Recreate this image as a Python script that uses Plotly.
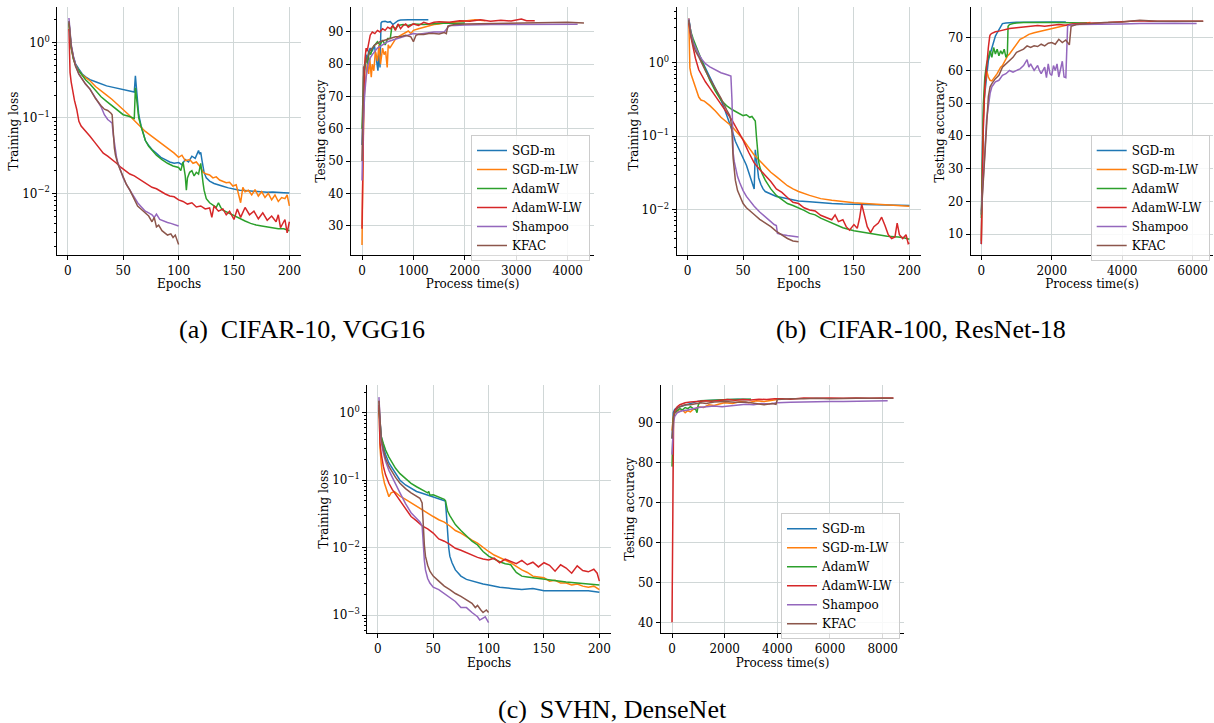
import plotly.graph_objects as go

W, H = 1214, 723
NAMES = ["SGD-m", "SGD-m-LW", "AdamW", "AdamW-LW", "Shampoo", "KFAC"]
COLORS = ["#1f77b4", "#ff7f0e", "#2ca02c", "#d62728", "#9467bd", "#8c564b"]

# ---------------- (a) CIFAR-10, VGG16 : training loss vs epochs ----------------
A_SGD_E = [1,2,3,5,7,10,13,16,20,25,30,35,40,45,50,55,58,60,61,62,63,64,66,68,70,73,76,80,84,88,92,96,100,103,106,109,112,115,117,118,119,120,121,122,123,125,128,132,136,140,145,150,155,160,165,170,175,180,185,190,195,200]
A_SGD_L = [1.9,1.2,0.9,0.65,0.52,0.44,0.38,0.35,0.32,0.30,0.28,0.265,0.255,0.245,0.237,0.23,0.225,0.22,0.36,0.24,0.15,0.11,0.08,0.062,0.05,0.043,0.038,0.034,0.03,0.028,0.026,0.025,0.0255,0.024,0.028,0.026,0.031,0.029,0.034,0.037,0.033,0.035,0.028,0.022,0.019,0.016,0.0145,0.0135,0.0128,0.0124,0.0118,0.0113,0.011,0.0109,0.0107,0.0105,0.0105,0.0103,0.0104,0.0102,0.0102,0.0101]
A_LW_E = [1,2,3,5,7,10,13,16,20,25,30,35,40,45,50,55,60,65,70,75,80,85,90,93,96,100,103,106,110,113,116,120,122,125,128,131,134,137,140,143,146,149,152,154,156,158,160,163,166,169,172,175,178,181,184,187,190,193,196,198,200]
A_LW_L = [1.8,1.1,0.85,0.62,0.5,0.42,0.37,0.34,0.31,0.26,0.23,0.2,0.175,0.15,0.13,0.11,0.092,0.078,0.066,0.058,0.051,0.045,0.04,0.036,0.034,0.03,0.032,0.027,0.028,0.025,0.026,0.022,0.019,0.018,0.0175,0.016,0.0165,0.015,0.0145,0.0138,0.014,0.0125,0.013,0.0098,0.0075,0.012,0.0105,0.011,0.0095,0.0112,0.0092,0.0105,0.0088,0.01,0.0082,0.0095,0.0078,0.0088,0.0085,0.0095,0.0068]
A_ADW_E = [1,2,3,5,7,10,13,16,20,25,30,35,40,45,50,55,58,60,61,62,63,64,66,68,70,73,76,80,85,90,95,100,102,104,106,107,108,110,112,114,116,118,120,121,122,123,125,128,131,134,136,138,140,145,150,155,160,165,170,175,180,185,190,195,200]
A_ADW_L = [1.8,1.1,0.85,0.6,0.5,0.42,0.36,0.32,0.28,0.23,0.19,0.165,0.145,0.125,0.11,0.105,0.1,0.098,0.25,0.18,0.13,0.1,0.078,0.062,0.05,0.042,0.037,0.032,0.028,0.025,0.023,0.022,0.02,0.026,0.017,0.011,0.016,0.019,0.02,0.017,0.019,0.018,0.025,0.02,0.014,0.011,0.0085,0.0075,0.007,0.0065,0.0075,0.0065,0.006,0.0055,0.005,0.0047,0.0043,0.004,0.0038,0.0037,0.0036,0.0035,0.0034,0.0034,0.0032]
A_ADLW_E = [1,2,3,4,5,6,8,10,12,15,18,20,24,28,32,36,40,44,48,52,56,60,64,68,72,76,80,84,88,92,96,100,104,108,112,116,120,124,128,130,132,136,140,143,146,150,153,156,160,164,168,172,176,180,184,188,190,192,196,198,200]
A_ADLW_L = [1.5,0.4,0.3,0.24,0.2,0.17,0.13,0.09,0.078,0.07,0.062,0.057,0.048,0.04,0.034,0.031,0.028,0.025,0.022,0.02,0.018,0.017,0.0155,0.0145,0.013,0.012,0.0115,0.0105,0.0098,0.0092,0.009,0.0082,0.0078,0.0072,0.0075,0.0066,0.0068,0.0062,0.0064,0.0048,0.0068,0.0058,0.0062,0.0052,0.0058,0.0045,0.0062,0.0048,0.0065,0.0052,0.0058,0.0046,0.0055,0.0044,0.005,0.0042,0.0052,0.0035,0.0045,0.003,0.0042]
A_SH_E = [1,2,3,5,7,10,13,16,20,25,30,33,36,38,40,41,42,43,44,45,47,50,53,56,60,63,66,70,73,76,78,80,83,86,90,93,96,100]
A_SH_L = [2.1,1.3,0.95,0.65,0.5,0.38,0.32,0.28,0.24,0.18,0.14,0.11,0.095,0.09,0.085,0.06,0.045,0.035,0.03,0.026,0.021,0.016,0.013,0.011,0.0088,0.0075,0.0067,0.0058,0.0055,0.0052,0.0048,0.0053,0.0045,0.0043,0.0041,0.004,0.0039,0.0037]
A_KF_E = [1,2,3,5,7,10,13,16,20,25,30,33,36,38,39,40,41,42,43,44,45,47,50,53,56,60,63,66,70,73,76,78,80,82,85,88,90,93,95,97,100]
A_KF_L = [1.9,1.2,0.9,0.62,0.48,0.38,0.32,0.28,0.24,0.18,0.145,0.13,0.125,0.12,0.115,0.11,0.06,0.04,0.032,0.028,0.025,0.021,0.016,0.013,0.011,0.0085,0.0068,0.0062,0.0055,0.005,0.0042,0.0048,0.0036,0.0038,0.0032,0.003,0.0028,0.0029,0.0026,0.0028,0.0021]

# ---------------- (a) testing accuracy vs process time ----------------
A_SGD_T = [0,20,40,60,80,100,130,160,200,240,280,310,330,350,360,370,390,450,500,550,600,650,700,750,800,900,1000,1100,1200,1290]
A_SGD_A = [55,68,75,79,83,81,84,85,84,86,82,78,84,79,86,92.8,93.2,93.3,93.0,93.2,92.3,93.0,93.5,93.7,93.8,93.8,93.8,93.8,93.8,93.8]
A_LW_T = [0,10,30,50,80,100,130,150,180,200,230,260,300,330,360,400,430,460,490,510,540,580,620,660,700,750,800,850,900,950,1000,1100,1200,1300,1400,1500,1600,1800,2000,2200,2400]
A_LW_A = [24,45,65,72,78,80,77,82,76,80,78,84,81,86,80,85,83,84,79,86,85,86,87,88,88.5,89,89.5,90,90.3,89.5,90.5,91,91.5,92,92.3,92.5,92.8,93,93.3,93.8,93.5]
A_ADW_T = [0,15,30,50,80,110,140,170,200,250,300,350,400,450,500,550,580,600,650,700,800,900,1000,1200,1400,1600,1800,2000]
A_ADW_A = [60,70,76,79,82,80,84,83,85,86,87,86,87.5,86,88,88,91.5,91.8,91,92,92.3,92,92.5,92.3,92.5,92.8,92.6,92.8]
A_ADLW_T = [0,10,20,30,45,60,80,100,130,160,200,250,300,350,400,450,500,550,600,650,700,750,800,850,900,1000,1100,1200,1300,1400,1500,1700,1900,2100,2300,2500,2700,2900,3100,3200,3360]
A_ADLW_A = [29,43,60,72,78,82,85,84,87,89,90,89.5,90.5,90,91,90.5,91.5,91,92,90.5,92.5,91,92,92.5,91.5,92.5,92,93,92.5,93,93.2,93,93.5,93.3,93.8,93.3,93.6,93.4,94,93.5,93.5]
A_SH_T = [0,20,50,80,120,160,200,250,300,400,500,600,700,800,900,1000,1100,1200,1400,1600,1650,1700,1800,2000,2500,3000,3500,4000,4194]
A_SH_A = [44,60,70,76,80,82,83,84,85,86,87,87.5,88,88.5,89,89.5,89.3,89.6,90,90,91,92,92,92.2,92.3,92.3,92.3,92.4,92.4]
A_KF_T = [0,15,30,60,100,150,200,250,350,450,550,650,750,850,950,1000,1050,1100,1200,1300,1400,1500,1600,1640,1670,1800,2000,2500,3000,3500,4000,4317]
A_KF_A = [50,70,79,80,82,84,85,86,87,87.5,88,88.5,88.5,89,88.5,87,89,89.3,89.2,89.5,89.5,89.4,89.8,89.5,91.8,92.3,92.5,92.6,92.8,92.9,93,92.8]

# ---------------- (b) CIFAR-100, ResNet-18 : training loss ----------------
B_SGD_E = [1,2,3,5,7,10,13,16,20,25,30,33,36,38,40,43,46,50,53,56,58,60,61,62,63,64,66,68,70,75,80,85,90,95,100,110,120,130,140,150,160,170,180,190,195,200]
B_SGD_L = [4.0,3.0,2.5,1.9,1.6,1.3,1.05,0.85,0.63,0.44,0.31,0.24,0.18,0.15,0.12,0.085,0.068,0.05,0.04,0.029,0.024,0.019,0.065,0.045,0.035,0.027,0.022,0.019,0.0175,0.016,0.015,0.0145,0.014,0.0135,0.013,0.0127,0.0122,0.012,0.0118,0.0117,0.0118,0.0115,0.0116,0.0114,0.0115,0.0113]
B_LW_E = [1,2,3,5,7,10,12,15,20,25,30,35,40,45,50,55,60,65,70,75,80,85,90,95,100,110,120,130,140,150,160,170,180,190,200]
B_LW_L = [4.0,0.85,0.7,0.58,0.47,0.34,0.31,0.3,0.26,0.22,0.18,0.155,0.135,0.11,0.09,0.07,0.055,0.046,0.038,0.032,0.028,0.024,0.021,0.019,0.0175,0.0155,0.014,0.0133,0.0127,0.0123,0.012,0.0118,0.0116,0.0113,0.011]
B_ADW_E = [1,2,3,5,7,10,13,16,20,25,30,35,40,45,50,53,56,58,60,61,62,63,64,65,67,70,75,80,85,90,95,100,105,110,115,120,125,130,140,150,160,170,180,190,195,200]
B_ADW_L = [3.8,3.0,2.6,2.1,1.75,1.35,1.05,0.8,0.58,0.41,0.31,0.26,0.23,0.21,0.19,0.195,0.18,0.185,0.17,0.16,0.1,0.06,0.045,0.038,0.031,0.025,0.019,0.0155,0.0135,0.012,0.0113,0.0105,0.0097,0.0088,0.0084,0.0076,0.007,0.0065,0.0056,0.0051,0.0048,0.0045,0.0043,0.0042,0.0041,0.0039]
B_ADLW_E = [1,2,3,5,7,10,13,16,20,25,30,35,40,45,50,55,60,65,70,75,80,85,90,95,100,105,110,115,120,125,130,133,136,140,143,146,150,153,155,157,159,162,165,168,172,175,178,181,184,187,189,191,194,197,199,200]
B_ADLW_L = [3.5,2.7,2.2,1.6,1.15,0.8,0.65,0.55,0.45,0.35,0.28,0.21,0.165,0.12,0.088,0.06,0.043,0.035,0.029,0.024,0.019,0.017,0.0145,0.0125,0.012,0.0105,0.0098,0.0095,0.0083,0.0078,0.0072,0.0084,0.0068,0.0072,0.0058,0.0052,0.0062,0.0055,0.0075,0.0118,0.0085,0.0058,0.0048,0.0058,0.0065,0.0078,0.006,0.0045,0.004,0.0042,0.0065,0.0045,0.004,0.0045,0.0034,0.0035]
B_SH_E = [1,2,3,5,7,10,13,16,20,25,30,35,38,39,40,41,42,43,45,47,50,53,56,60,65,70,75,78,80,81,83,86,90,95,100]
B_SH_L = [4.0,3.0,2.5,1.9,1.6,1.3,1.1,0.97,0.88,0.8,0.73,0.69,0.67,0.66,0.3,0.06,0.045,0.037,0.028,0.023,0.018,0.015,0.013,0.011,0.0092,0.0078,0.0068,0.0062,0.006,0.0047,0.0046,0.0045,0.0044,0.0043,0.0042]
B_KF_E = [1,2,3,5,7,10,13,16,20,25,30,35,38,39,40,41,42,43,45,47,50,53,56,60,65,70,75,80,83,86,90,95,100]
B_KF_L = [3.8,2.8,2.3,1.75,1.45,1.2,0.95,0.78,0.6,0.45,0.33,0.23,0.19,0.16,0.11,0.05,0.032,0.025,0.018,0.015,0.012,0.0105,0.0095,0.0085,0.0073,0.0065,0.0058,0.005,0.0047,0.0043,0.004,0.0037,0.0036]

# ---------------- (b) testing accuracy ----------------
B_SGD_T = [0,20,40,70,100,130,160,200,250,300,350,400,450,500,550,600,700,800,1000,1200,1500,1800,2100,2400]
B_SGD_A = [7,25,40,50,53,57,60,63,65,67,68.5,70.5,71.5,72.5,73.5,74.3,74.5,74.6,74.7,74.7,74.8,74.7,74.8,74.8]
B_LW_T = [0,30,60,100,150,200,250,300,350,400,450,500,550,600,650,700,750,800,900,1000,1100,1200,1350,1500,1700,1900,2100,2300,2500,2700,2900,3100]
B_LW_A = [8,30,45,55,60,58,57,56.8,57.5,58,59,60,61,61.5,62.5,63.5,64.5,65,66.5,68,69.5,70,71,71.5,72,72.5,73,73.4,74,74.2,74.4,74.6]
B_ADW_T = [0,30,60,100,150,200,250,300,350,400,450,500,550,600,650,700,740,760,800,900,1000,1200,1500,1800,2100,2400,2700,3000]
B_ADW_A = [15,35,50,58,62,64,66,64,67,65,66.5,64.5,66,65,66.5,64,65,73.5,74,74.3,74.5,74.6,74.7,74.6,74.6,74.5,74.5,74.5]
B_ADLW_T = [0,20,50,100,150,200,240,260,300,400,500,600,800,1000,1200,1400,1600,1800,2000,2200,2400,2600,2800,3000,3300,3600,3900,4200,4500,4800,5100,5400,5700,6000,6300]
B_ADLW_A = [7,20,40,55,62,67,70.5,71,71.3,71.8,72,72.3,72.8,73,73.3,73.5,73.7,73.5,73.8,74,73.8,74.2,74.3,74.3,74.5,74.6,74.8,75,75.2,75,75.1,75,75,75,75]
B_SH_T = [0,50,100,150,200,250,300,400,500,600,700,800,900,1000,1100,1200,1300,1350,1400,1500,1600,1650,1700,1800,1850,1900,1950,2000,2050,2100,2150,2200,2250,2300,2350,2400,2450,2500,2700,3000,3500,4000,4500,5000,5500,6114]
B_SH_A = [17,25,35,45,50,53,55,56.5,57,58.5,59,60,59.5,60,60.5,61.5,63.3,61,62,60,61.5,60,59,61,57.8,62,59,58.5,61.5,60,62,58,61,62.8,58,57.8,73.5,73.8,74,74,74.2,74.2,74.3,74.4,74.4,74.3]
B_KF_T = [0,50,100,150,200,250,300,400,500,600,700,800,900,1000,1100,1200,1300,1400,1500,1600,1700,1800,1900,2000,2100,2200,2300,2400,2500,2550,2700,3000,3500,4000,4500,5000,5500,6000,6300]
B_KF_A = [16,25,35,45,52,55,56,57.5,58.5,61,62,63,64,65.5,66,66.5,67.5,67,67.5,67.3,68,67.5,68.3,68.5,68,69.5,68.5,69.3,67.8,73.5,74,74.3,74.6,74.8,75.3,75,75,75,75]

# ---------------- (c) SVHN, DenseNet : training loss ----------------
C_SGD_E = [1,2,3,5,7,10,13,16,20,25,30,35,40,45,50,55,60,61,62,63,64,65,67,70,75,80,85,90,95,100,110,120,130,140,150,160,170,180,190,200]
C_SGD_L = [1.2,0.62,0.45,0.31,0.24,0.18,0.15,0.125,0.1,0.085,0.075,0.068,0.064,0.06,0.056,0.053,0.05,0.049,0.03,0.015,0.01,0.0075,0.006,0.0047,0.0038,0.0034,0.0032,0.003,0.0029,0.0028,0.0026,0.0025,0.0024,0.0025,0.0023,0.0023,0.0023,0.0023,0.0023,0.0022]
C_LW_E = [1,2,3,4,6,8,10,12,15,18,20,25,30,35,40,45,50,55,60,65,70,75,80,85,90,95,100,105,110,115,120,125,130,135,140,145,150,155,160,165,170,175,180,185,190,195,200]
C_LW_L = [1.5,0.3,0.18,0.13,0.09,0.07,0.057,0.065,0.068,0.062,0.058,0.052,0.046,0.041,0.036,0.032,0.029,0.026,0.024,0.021,0.018,0.0165,0.0145,0.013,0.0117,0.01,0.0088,0.0078,0.0071,0.0065,0.006,0.0053,0.0047,0.0043,0.0038,0.0037,0.0036,0.0032,0.0033,0.003,0.003,0.0028,0.0029,0.0027,0.0026,0.0027,0.0024]
C_ADW_E = [1,2,3,5,7,10,13,16,20,25,30,35,40,45,46,47,50,55,60,61,62,63,65,67,70,75,80,85,90,95,100,105,110,115,120,122,125,128,130,135,140,150,160,170,180,190,200]
C_ADW_L = [1.1,0.6,0.45,0.35,0.28,0.22,0.18,0.15,0.125,0.105,0.09,0.08,0.072,0.065,0.068,0.06,0.061,0.057,0.052,0.05,0.042,0.035,0.03,0.026,0.022,0.018,0.015,0.0125,0.011,0.0088,0.0075,0.0068,0.0062,0.0058,0.0056,0.005,0.0043,0.004,0.0038,0.0037,0.0036,0.0034,0.0032,0.0031,0.003,0.0029,0.0028]
C_ADLW_E = [1,2,3,5,7,10,13,16,20,25,30,35,40,45,50,55,60,65,70,75,80,85,90,95,100,105,110,115,120,125,130,135,140,145,150,155,160,165,170,175,180,185,190,195,198,200]
C_ADLW_L = [1.3,0.35,0.25,0.16,0.12,0.09,0.073,0.062,0.048,0.037,0.029,0.025,0.021,0.019,0.0165,0.0135,0.0125,0.0112,0.0098,0.0092,0.0084,0.0078,0.0072,0.0068,0.0066,0.007,0.006,0.0068,0.0062,0.0058,0.0065,0.0056,0.0061,0.0052,0.006,0.0055,0.0045,0.0056,0.005,0.0042,0.0054,0.0046,0.0044,0.0048,0.0042,0.0032]
C_SH_E = [1,2,3,5,7,10,13,16,20,25,30,35,38,40,41,42,43,45,47,50,55,60,65,70,75,80,85,88,90,92,95,97,100]
C_SH_L = [1.7,0.55,0.38,0.25,0.19,0.14,0.11,0.085,0.065,0.045,0.033,0.027,0.024,0.021,0.01,0.0065,0.0047,0.0035,0.003,0.0026,0.0024,0.0021,0.0018,0.0016,0.0013,0.0013,0.0011,0.001,0.00095,0.00085,0.0009,0.00095,0.00078]
C_KF_E = [1,2,3,5,7,10,13,16,20,25,30,35,38,40,41,42,43,45,47,50,55,60,65,70,75,80,85,88,90,93,95,98,100]
C_KF_L = [1.5,0.6,0.42,0.28,0.21,0.16,0.13,0.11,0.09,0.075,0.065,0.057,0.054,0.046,0.02,0.011,0.0075,0.0055,0.0045,0.0038,0.0032,0.0027,0.0024,0.0021,0.0019,0.0017,0.0015,0.0013,0.0014,0.0012,0.0011,0.0012,0.0011]

# ---------------- (c) testing accuracy ----------------
C_SGD_T = [0,20,50,100,150,200,300,400,500,600,700,800,900,1000,1200,1500,2000,2500,3000]
C_SGD_A = [86,91,92.5,93.3,93.6,93.8,94,94.2,94.5,94.7,94.8,95,95.2,95.4,95.5,95.6,95.8,95.9,95.8]
C_LW_T = [0,20,50,100,150,200,300,400,500,600,700,800,900,1000,1200,1400,1600,1800,2000,2300,2600,2900,3200,3500,3800,4000]
C_LW_A = [88,90,91.5,92.5,92.5,93,92.8,93.2,92.5,93,92.7,93.3,93.5,94,93.8,94.5,94.3,94.7,95,94.8,95.3,95,95.5,95.3,95.7,95.8]
C_ADW_T = [0,20,50,100,200,300,400,500,600,700,800,900,950,1000,1100,1300,1500,1800,2100,2400,2700,3000]
C_ADW_A = [79,88,91,92.5,93,93.5,93.2,93.8,93.5,94,93.6,93.3,92.5,94.5,95.5,95.6,95.6,95.7,95.8,95.8,95.9,95.9]
C_ADLW_T = [0,20,40,60,100,150,200,300,400,500,700,900,1100,1300,1500,1800,2100,2400,2700,3000,3300,3600,3900,4200,4500,5000,5500,6000,6500,7000,7500,8000,8410]
C_ADLW_A = [40,70,88,91,93,93.5,94,94.5,94.8,95,95.2,95.3,95.5,95.5,95.4,95.6,95.8,95.6,95.8,95.7,95.9,95.8,96,96,95.9,96.2,96.1,96.2,96.1,96.2,96.1,96.2,96.2]
C_SH_T = [0,30,60,100,150,200,300,400,600,800,1000,1300,1600,1900,2200,2500,2800,3100,3400,3700,4000,4500,5000,5500,6000,6500,7000,7500,8191]
C_SH_A = [82,88,90,91.5,92,92.5,92.8,93,93.2,93.5,93.8,94,94.2,94,94.2,94.5,94.6,94.5,94.8,94.7,95,95.1,95.2,95.3,95.3,95.3,95.4,95.4,95.5]
C_KF_T = [0,30,60,100,200,300,400,500,700,900,1100,1300,1600,2000,2400,2800,3200,3500,3800,3950,4000,4200,4500,5000,5500,6000,6500,7000,7500,8000,8406]
C_KF_A = [86,90,91.5,92.5,93.5,94,94.3,94.5,94.5,94.8,95,94.8,95.2,95.3,95.1,95.2,94.8,94.5,94.8,94.6,95.8,95.9,96,96,96.1,96,96.1,96.1,96.1,96.1,96.1]

LOSS_TICKS = [1, 0.1, 0.01, 0.001]
LOSS_TEXT = ["10<sup>0</sup>", "10<sup>\u22121</sup>", "10<sup>\u22122</sup>", "10<sup>\u22123</sup>"]

CAPTIONS = ["(a)\u2002CIFAR-10, VGG16", "(b)\u2002CIFAR-100, ResNet-18", "(c)\u2002SVHN, DenseNet"]

FONT = "DejaVu Serif"
GRID = "#d0d7d7"

def px_x(a, b):
    return [a / W, b / W]

def px_y(top, bottom):
    return [1 - bottom / H, 1 - top / H]

panels = [
    dict(xd=(57.3, 301), yd=(7.3, 255), xr=[-9.5, 210.5], yr=[-2.817, 0.464], log=True,
         xt=[0, 50, 100, 150, 200], xtitle="Epochs", ytitle="Training loss",
         series=[(A_SGD_E, A_SGD_L), (A_LW_E, A_LW_L), (A_ADW_E, A_ADW_L), (A_ADLW_E, A_ADLW_L), (A_SH_E, A_SH_L), (A_KF_E, A_KF_L)], leg=None),
    dict(xd=(351, 594.3), yd=(7.3, 255), xr=[-214, 4518], yr=[20.9, 97.65], log=False,
         xt=[0, 1000, 2000, 3000, 4000], yt=[30, 40, 50, 60, 70, 80, 90], xtitle="Process time(s)", ytitle="Testing accuracy",
         series=[(A_SGD_T, A_SGD_A), (A_LW_T, A_LW_A), (A_ADW_T, A_ADW_A), (A_ADLW_T, A_ADLW_A), (A_SH_T, A_SH_A), (A_KF_T, A_KF_A)], leg="legend"),
    dict(xd=(676.7, 921), yd=(7.3, 255), xr=[-9.9, 210.5], yr=[-2.623, 0.756], log=True,
         xt=[0, 50, 100, 150, 200], xtitle="Epochs", ytitle="Training loss",
         series=[(B_SGD_E, B_SGD_L), (B_LW_E, B_LW_L), (B_ADW_E, B_ADW_L), (B_ADLW_E, B_ADLW_L), (B_SH_E, B_SH_L), (B_KF_E, B_KF_L)], leg=None),
    dict(xd=(970.7, 1213.3), yd=(7.3, 255), xr=[-301, 6587], yr=[3.68, 79.27], log=False,
         xt=[0, 2000, 4000, 6000], yt=[10, 20, 30, 40, 50, 60, 70], xtitle="Process time(s)", ytitle="Testing accuracy",
         series=[(B_SGD_T, B_SGD_A), (B_LW_T, B_LW_A), (B_ADW_T, B_ADW_A), (B_ADLW_T, B_ADLW_A), (B_SH_T, B_SH_A), (B_KF_T, B_KF_A)], leg="legend2"),
    dict(xd=(367.3, 611), yd=(385, 633.3), xr=[-9.5, 210.5], yr=[-3.267, 0.41], log=True,
         xt=[0, 50, 100, 150, 200], xtitle="Epochs", ytitle="Training loss",
         series=[(C_SGD_E, C_SGD_L), (C_LW_E, C_LW_L), (C_ADW_E, C_ADW_L), (C_ADLW_E, C_ADLW_L), (C_SH_E, C_SH_L), (C_KF_E, C_KF_L)], leg=None),
    dict(xd=(660.7, 904.3), yd=(385, 633.3), xr=[-429, 8822], yr=[37.25, 99.44], log=False,
         xt=[0, 2000, 4000, 6000, 8000], yt=[40, 50, 60, 70, 80, 90], xtitle="Process time(s)", ytitle="Testing accuracy",
         series=[(C_SGD_T, C_SGD_A), (C_LW_T, C_LW_A), (C_ADW_T, C_ADW_A), (C_ADLW_T, C_ADLW_A), (C_SH_T, C_SH_A), (C_KF_T, C_KF_A)], leg="legend3"),
]

fig = go.Figure()
layout = dict(width=W, height=H, margin=dict(l=0, r=0, t=0, b=0),
              paper_bgcolor="white", plot_bgcolor="white",
              font=dict(family=FONT, size=12, color="black"))

for i, p in enumerate(panels):
    k = "" if i == 0 else str(i + 1)
    xa = dict(domain=px_x(*p["xd"]), range=p["xr"], anchor="y" + k,
              showline=True, linecolor="black", linewidth=1.2, mirror=False,
              ticks="outside", ticklen=4, tickwidth=1, tickcolor="black",
              showgrid=True, gridcolor=GRID, gridwidth=1.2, zeroline=False,
              tickvals=p["xt"], tickfont=dict(family=FONT, size=12),
              title=dict(text=p["xtitle"], font=dict(family=FONT, size=12), standoff=0))
    ya = dict(domain=px_y(*p["yd"]), range=p["yr"], anchor="x" + k,
              showline=True, linecolor="black", linewidth=1.2, mirror=False,
              ticks="outside", ticklen=4, tickwidth=1, tickcolor="black",
              showgrid=True, gridcolor=GRID, gridwidth=1.2, zeroline=False,
              tickfont=dict(family=FONT, size=12),
              title=dict(text=p["ytitle"], font=dict(family=FONT, size=12), standoff=0))
    if p["log"]:
        ya.update(type="log", tickvals=LOSS_TICKS, ticktext=LOSS_TEXT,
                  minor=dict(ticks="outside", ticklen=2, tickcolor="black", dtick="D1", showgrid=False))
    else:
        ya.update(tickvals=p["yt"])
    layout["xaxis" + k] = xa
    layout["yaxis" + k] = ya
    for j, (xs, ys) in enumerate(p["series"]):
        tr = dict(x=xs, y=ys, mode="lines", name=NAMES[j],
                  line=dict(color=COLORS[j], width=1.5),
                  xaxis="x" + k, yaxis="y" + k, showlegend=p["leg"] is not None)
        if p["leg"] is not None:
            tr["legend"] = p["leg"]
        fig.add_trace(go.Scatter(**tr))

def legend_box(left, top):
    return dict(x=left / W, y=1 - top / H, xanchor="left", yanchor="top",
                bgcolor="rgba(255,255,255,0.85)", bordercolor="#cccccc", borderwidth=1,
                font=dict(family=FONT, size=12, color="black"), tracegroupgap=0,
                itemwidth=30)

layout["legend"] = legend_box(471, 135)
layout["legend2"] = legend_box(1090.7, 135)
layout["legend3"] = legend_box(781, 513.3)

anns = []
for txt, cx, cy in zip(CAPTIONS, [302, 921, 612], [330, 330, 709]):
    anns.append(dict(text=txt, x=cx / W, y=1 - cy / H, xref="paper", yref="paper",
                     xanchor="center", yanchor="middle", showarrow=False,
                     font=dict(family="Liberation Serif", size=26, color="black")))
layout["annotations"] = anns

fig.update_layout(**layout)
fig.write_html("out.html")
